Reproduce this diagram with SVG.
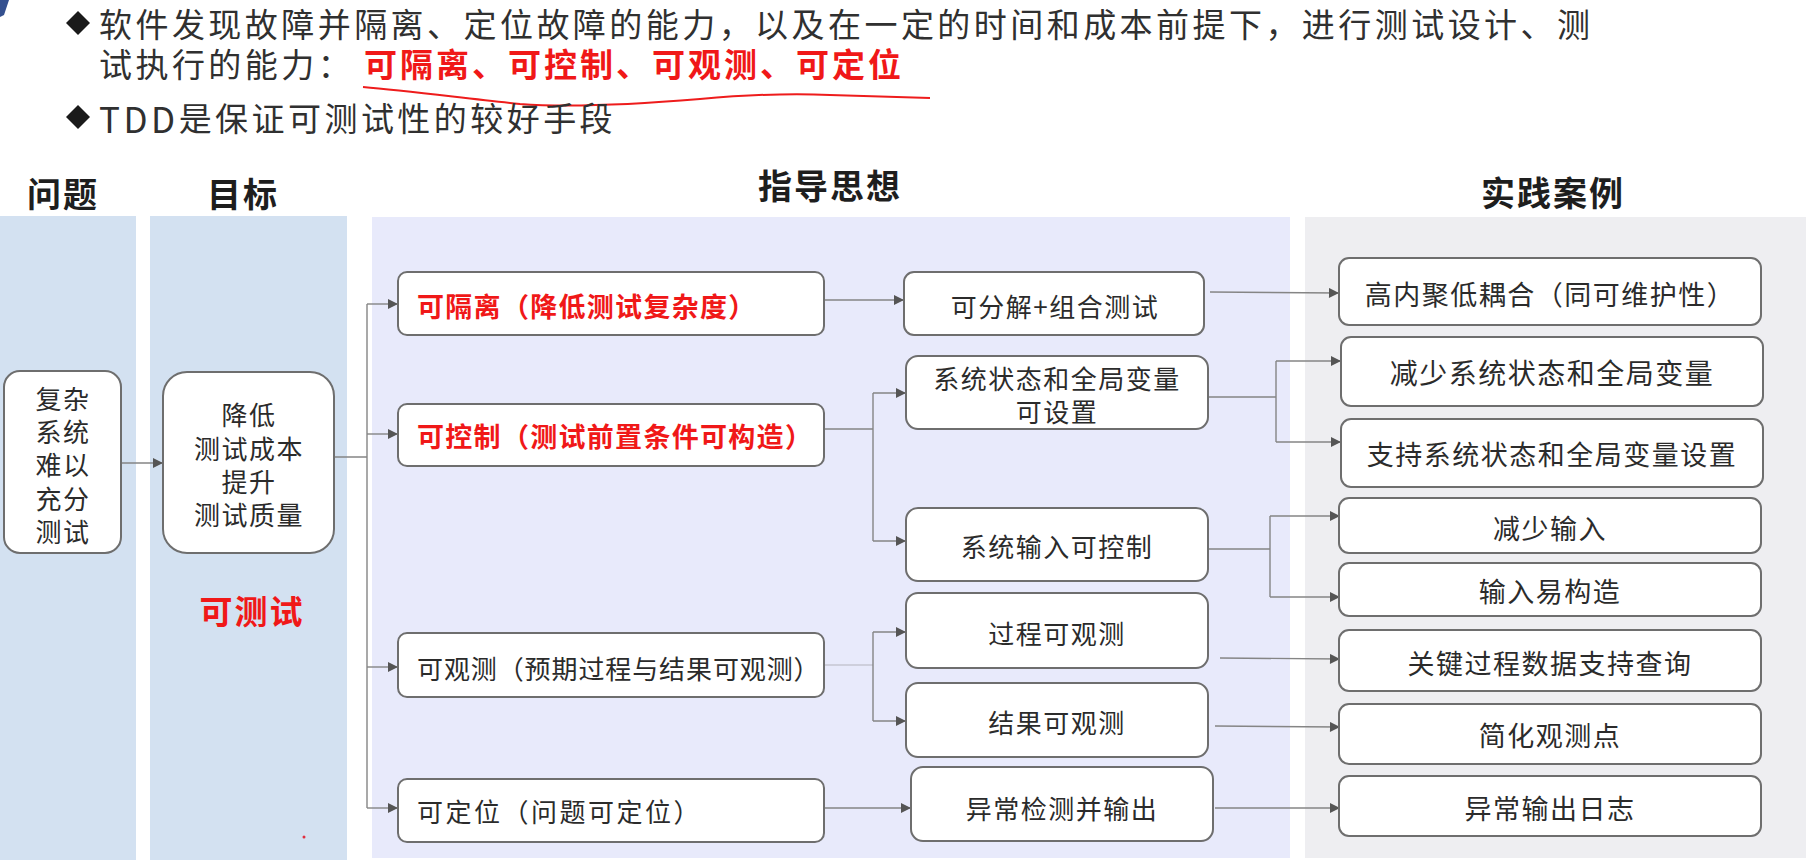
<svg xmlns="http://www.w3.org/2000/svg" width="1806" height="866" viewBox="0 0 1806 866">
<style>
text{font-family:"Noto Sans CJK SC","Noto Sans",sans-serif;fill:#2b2b2b}
.top{font-size:33px;letter-spacing:3.45px;fill:#303030}
.topred{font-size:33px;font-weight:bold;fill:#f01818;letter-spacing:3px}
.hdr{font-size:34px;font-weight:bold;letter-spacing:2px;fill:#1e1e1e}
.lbl{font-size:26px;letter-spacing:0.9px}
.lblc{font-size:26px;letter-spacing:1.5px;text-anchor:middle}
.lbl4{font-size:27px;letter-spacing:1.5px;text-anchor:middle}
.red{font-size:27px;font-weight:bold;fill:#f01818;letter-spacing:1.3px}
.box{fill:#ffffff;stroke:#6e6e6e;stroke-width:2}
.conn{fill:none;stroke:#858585;stroke-width:1.4}
.arr{marker-end:url(#ah)}
</style>
<defs>
<marker id="ah" viewBox="0 0 10 10" refX="10" refY="5" markerWidth="11" markerHeight="10" markerUnits="userSpaceOnUse" orient="auto">
<path d="M0,0 L10,5 L0,10 z" fill="#555"/>
</marker>
</defs>
<rect x="0" y="0" width="1806" height="866" fill="#ffffff"/>
<path d="M0,0 L9,0 L4,15 L0,17 z" fill="#34508f"/>

<!-- top bullets -->
<g id="intro">
<path d="M78,11 L90,23 L78,35 L66,23 z" fill="#1a1a1a"/>
<text class="top" x="99" y="23" dominant-baseline="central">软件发现故障并隔离、定位故障的能力，以及在一定的时间和成本前提下，进行测试设计、测</text>
<text class="top" x="99" y="63" dominant-baseline="central">试执行的能力：</text>
<text class="topred" x="364" y="63" dominant-baseline="central">可隔离、可控制、可观测、可定位</text>
<path d="M363,87 C410,91 470,99 520,104 C575,108 640,104 700,99 C745,95 790,93 830,95 C870,96 900,97 930,98" fill="none" stroke="#ee1c1c" stroke-width="2"/>
<path d="M78,105 L90,117 L78,129 L66,117 z" fill="#1a1a1a"/>
<text class="top" x="99" y="117" dominant-baseline="central"><tspan style="font-size:35px;letter-spacing:3.5px">TDD</tspan>是保证可测试性的较好手段</text>
</g>

<!-- column backgrounds -->
<g id="columns">
<rect x="0" y="216" width="136" height="644" fill="#d3e1f1"/>
<rect x="150" y="216" width="197" height="644" fill="#d3e1f1"/>
<rect x="372" y="217" width="918" height="641" fill="#e8eafb"/>
<rect x="1305" y="217" width="501" height="641" fill="#eeeef1"/>
<text class="hdr" x="63" y="192" text-anchor="middle" dominant-baseline="central">问题</text>
<text class="hdr" x="243" y="192" text-anchor="middle" dominant-baseline="central">目标</text>
<text class="hdr" x="830" y="184" text-anchor="middle" dominant-baseline="central">指导思想</text>
<text class="hdr" x="1553" y="191" text-anchor="middle" dominant-baseline="central">实践案例</text>
</g>

<!-- connectors -->
<g id="connectors">
<line class="conn arr" x1="121" y1="463" x2="163" y2="463"/>
<polyline class="conn" points="334,457 367,457"/>
<line class="conn" x1="367" y1="304" x2="367" y2="808"/>
<line class="conn arr" x1="367" y1="304" x2="398" y2="304"/>
<line class="conn arr" x1="367" y1="434" x2="398" y2="434"/>
<line class="conn arr" x1="367" y1="667" x2="398" y2="667"/>
<line class="conn arr" x1="367" y1="808" x2="398" y2="808"/>

<line class="conn arr" x1="824" y1="300" x2="904" y2="300"/>
<line class="conn" x1="824" y1="429" x2="873" y2="429"/>
<line class="conn" x1="873" y1="393" x2="873" y2="541"/>
<line class="conn arr" x1="873" y1="393" x2="906" y2="393"/>
<line class="conn arr" x1="873" y1="541" x2="906" y2="541"/>
<line class="conn" x1="824" y1="665" x2="873" y2="665" stroke-opacity="0.35"/>
<line class="conn" x1="873" y1="632" x2="873" y2="721"/>
<line class="conn arr" x1="873" y1="632" x2="906" y2="632"/>
<line class="conn arr" x1="873" y1="721" x2="906" y2="721"/>
<line class="conn arr" x1="824" y1="808" x2="911" y2="808"/>

<line class="conn arr" x1="1210" y1="292" x2="1339" y2="293"/>
<line class="conn" x1="1208" y1="397" x2="1276" y2="397"/>
<line class="conn" x1="1276" y1="361" x2="1276" y2="442"/>
<line class="conn arr" x1="1276" y1="361" x2="1341" y2="361"/>
<line class="conn arr" x1="1276" y1="442" x2="1341" y2="442"/>
<line class="conn" x1="1208" y1="549" x2="1270" y2="549"/>
<line class="conn" x1="1270" y1="516" x2="1270" y2="597"/>
<line class="conn arr" x1="1270" y1="516" x2="1340" y2="516"/>
<line class="conn arr" x1="1270" y1="597" x2="1340" y2="597"/>
<line class="conn arr" x1="1220" y1="658" x2="1340" y2="659"/>
<line class="conn arr" x1="1215" y1="726" x2="1340" y2="727"/>
<line class="conn arr" x1="1215" y1="808" x2="1340" y2="808"/>
</g>

<!-- column 1 -->
<g id="n-problem">
<rect class="box" x="4" y="371" width="117" height="182" rx="16"/>
<text class="lblc" x="63" y="397" dominant-baseline="central">复杂</text>
<text class="lblc" x="63" y="430" dominant-baseline="central">系统</text>
<text class="lblc" x="63" y="463" dominant-baseline="central">难以</text>
<text class="lblc" x="63" y="497" dominant-baseline="central">充分</text>
<text class="lblc" x="63" y="530" dominant-baseline="central">测试</text>
</g>

<!-- column 2 -->
<g id="n-goal">
<rect class="box" x="163" y="372" width="171" height="181" rx="24"/>
<text class="lblc" x="249" y="413" dominant-baseline="central">降低</text>
<text class="lblc" x="249" y="447" dominant-baseline="central">测试成本</text>
<text class="lblc" x="249" y="480" dominant-baseline="central">提升</text>
<text class="lblc" x="249" y="513" dominant-baseline="central">测试质量</text>
</g>
<g id="n-testable">
<text x="252" y="610" text-anchor="middle" dominant-baseline="central" style="font-size:33px;font-weight:bold;fill:#f01818;letter-spacing:2px">可测试</text>
<circle cx="304" cy="837" r="1.5" fill="#e03040"/>
</g>

<!-- column 3 left -->
<g id="n-isolate">
<rect class="box" x="398" y="272" width="426" height="63" rx="9"/>
<text class="red" x="417" y="305" dominant-baseline="central">可隔离（降低测试复杂度）</text>
</g>
<g id="n-control">
<rect class="box" x="398" y="404" width="426" height="62" rx="9"/>
<text class="red" x="417" y="435" dominant-baseline="central">可控制（测试前置条件可构造）</text>
</g>
<g id="n-observe">
<rect class="box" x="398" y="633" width="426" height="64" rx="9"/>
<text class="lbl" x="417" y="667" dominant-baseline="central">可观测（预期过程与结果可观测）</text>
</g>
<g id="n-locate">
<rect class="box" x="398" y="779" width="426" height="63" rx="9"/>
<text class="lbl" x="417" y="810" dominant-baseline="central" style="letter-spacing:2.5px">可定位（问题可定位）</text>
</g>

<!-- column 3 middle -->
<g id="n-decompose">
<rect class="box" x="904" y="272" width="300" height="63" rx="10"/>
<text class="lblc" x="1055" y="305" dominant-baseline="central">可分解+组合测试</text>
</g>
<g id="n-state">
<rect class="box" x="906" y="356" width="302" height="73" rx="12"/>
<text class="lblc" x="1057" y="377" dominant-baseline="central">系统状态和全局变量</text>
<text class="lblc" x="1057" y="410" dominant-baseline="central">可设置</text>
</g>
<g id="n-input">
<rect class="box" x="906" y="508" width="302" height="73" rx="12"/>
<text class="lblc" x="1057" y="545" dominant-baseline="central">系统输入可控制</text>
</g>
<g id="n-process">
<rect class="box" x="906" y="593" width="302" height="75" rx="12"/>
<text class="lblc" x="1057" y="632" dominant-baseline="central">过程可观测</text>
</g>
<g id="n-result">
<rect class="box" x="906" y="683" width="302" height="74" rx="12"/>
<text class="lblc" x="1057" y="721" dominant-baseline="central">结果可观测</text>
</g>
<g id="n-exception">
<rect class="box" x="911" y="767" width="302" height="74" rx="12"/>
<text class="lblc" x="1062" y="807" dominant-baseline="central">异常检测并输出</text>
</g>

<!-- column 4 -->
<g id="n-cohesion">
<rect class="box" x="1339" y="258" width="422" height="67" rx="10"/>
<text class="lbl4" x="1550" y="293" dominant-baseline="central">高内聚低耦合（同可维护性）</text>
</g>
<g id="n-reduce-state">
<rect class="box" x="1341" y="337" width="422" height="69" rx="10"/>
<text class="lbl4" x="1552" y="372" dominant-baseline="central" style="font-size:28px">减少系统状态和全局变量</text>
</g>
<g id="n-support-state">
<rect class="box" x="1341" y="419" width="422" height="68" rx="10"/>
<text class="lbl4" x="1552" y="453" dominant-baseline="central">支持系统状态和全局变量设置</text>
</g>
<g id="n-reduce-input">
<rect class="box" x="1339" y="498" width="422" height="55" rx="10"/>
<text class="lbl4" x="1550" y="527" dominant-baseline="central">减少输入</text>
</g>
<g id="n-easy-input">
<rect class="box" x="1339" y="563" width="422" height="53" rx="10"/>
<text class="lbl4" x="1550" y="590" dominant-baseline="central">输入易构造</text>
</g>
<g id="n-query">
<rect class="box" x="1339" y="630" width="422" height="61" rx="10"/>
<text class="lbl4" x="1550" y="662" dominant-baseline="central">关键过程数据支持查询</text>
</g>
<g id="n-simplify">
<rect class="box" x="1339" y="704" width="422" height="60" rx="10"/>
<text class="lbl4" x="1550" y="734" dominant-baseline="central">简化观测点</text>
</g>
<g id="n-log">
<rect class="box" x="1339" y="776" width="422" height="60" rx="10"/>
<text class="lbl4" x="1550" y="807" dominant-baseline="central">异常输出日志</text>
</g>
</svg>
